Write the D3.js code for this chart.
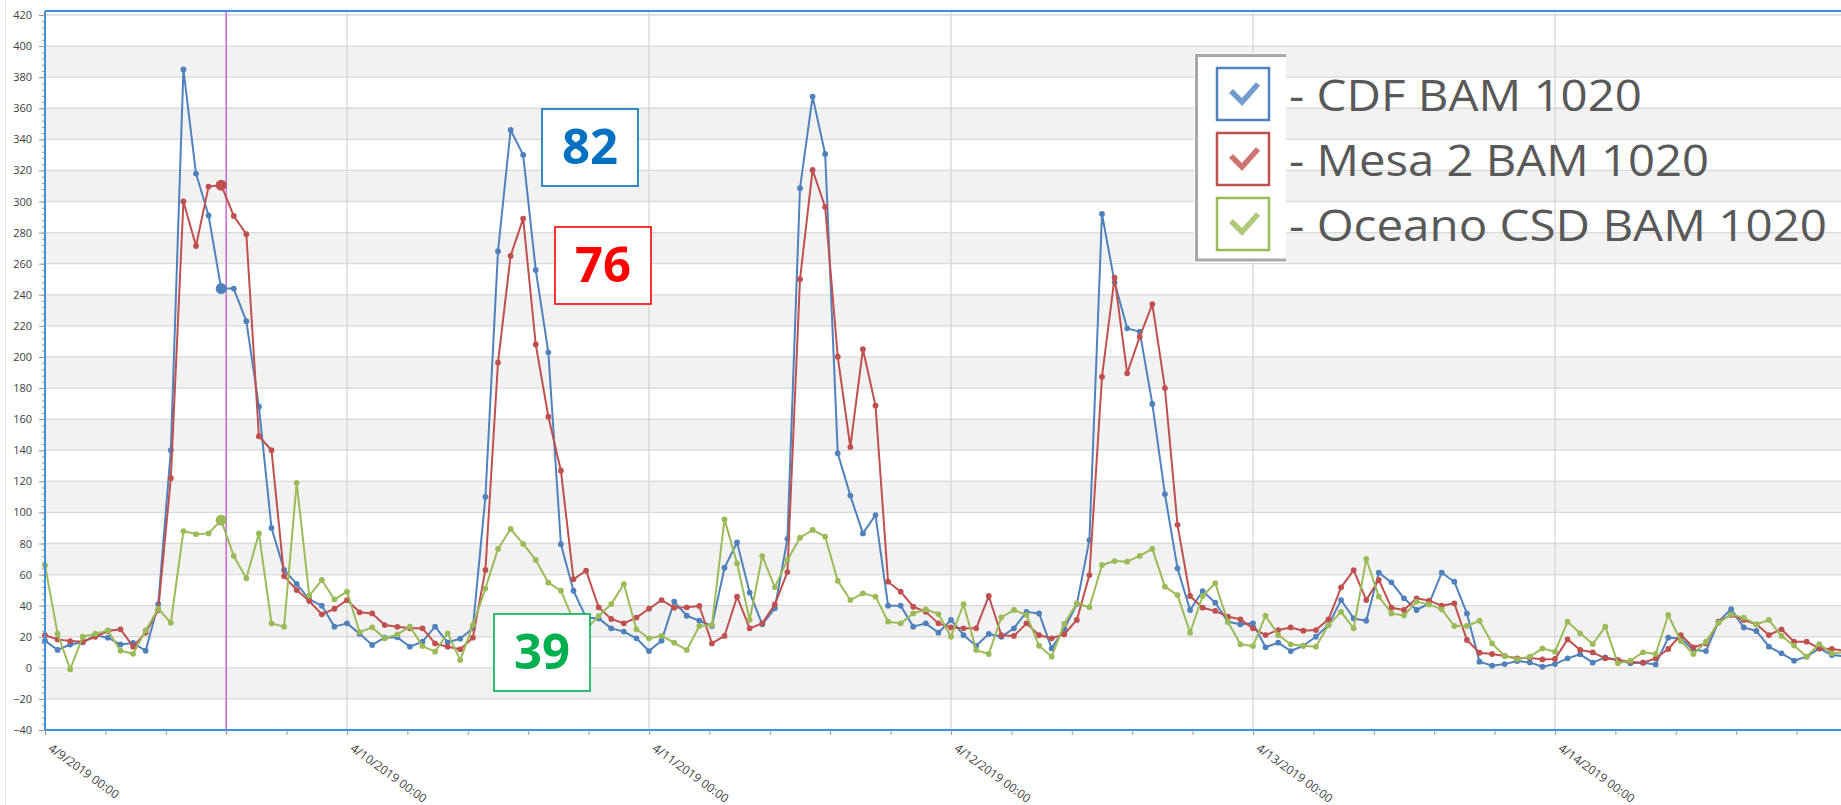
<!DOCTYPE html>
<html>
<head>
<meta charset="utf-8">
<script src="https://cdn.jsdelivr.net/npm/d3@7"></script>
<style>
  body { margin: 0; background: #fff; overflow: hidden; }
  text { font-family: "Open Sans", sans-serif; }
</style>
</head>
<body>
<script>
// hourly readings starting 4/9/2019 00:00
const startTime = new Date(2019, 3, 9, 0, 0);
const seriesNames = ["CDF BAM 1020", "Mesa 2 BAM 1020", "Oceano CSD BAM 1020"];

const cdf = [17.5, 11.5, 15, 16.4, 21, 19.4, 15, 16, 11, 41,
  140, 385, 318, 291, 244, 244, 223, 168, 90, 63,
  54, 44, 40, 26.5, 28.6, 22, 14.7, 19.4, 19.6, 13.6,
  16.8, 26.5, 16.4, 18.7, 25.4, 110, 268, 346, 330, 256,
  203, 79.5, 49.6, 32.3, 31.8, 25.4, 23.3, 19, 10.8, 17.5,
  42.6, 33.5, 30.3, 26.9, 64.4, 80.7, 48.4, 28, 38.3, 82.9,
  308.6, 367.5, 330.6, 138, 110.8, 86.5, 98.3, 40, 40, 26.5,
  28.6, 22.6, 30.8, 21, 14.2, 21.8, 20, 25.4, 36, 35,
  12.5, 25, 41, 82.2, 292, 248, 218.4, 216.3, 169.8, 111.8,
  64, 37.2, 49.4, 41.9, 29.7, 28, 28.6, 13.2, 16.2, 10.8,
  14.2, 20, 27.5, 43.6, 31.8, 30.3, 61.2, 55, 44.7, 37.2,
  41.5, 61.2, 55.4, 35, 3.9, 1.4, 2.4, 4.4, 3.5, 0.7,
  2.4, 6.1, 8.7, 3.3, 6.7, 5, 2.9, 3.3, 2.2, 19.4,
  18.9, 11.5, 10.8, 29.7, 37.8, 26, 23.7, 13.6, 9.3, 4.6,
  7.2, 12.5, 8.2, 7.5];

const mesa = [21, 18.3, 17.2, 16.8, 20, 23.7, 24.8, 13.6, 22.6, 37.2,
  122, 300, 271.4, 309.6, 310.5, 290.7, 279, 149, 140, 59,
  50, 43, 34.4, 38, 43.6, 35.7, 35, 27.5, 26.4, 25.4,
  25.4, 15.7, 13.6, 11.9, 19.4, 63, 196.4, 265, 289, 208,
  161.6, 126.8, 57, 62.5, 38.9, 31.4, 28.6, 32.3, 38, 43.6,
  38.7, 38.9, 39.8, 15.7, 20.5, 45.8, 25.4, 28.6, 40.8, 61.6,
  250, 320.3, 296.5, 200.2, 142, 205, 168.7, 55.4, 49, 39.3,
  36, 28.6, 26, 25.4, 25.4, 46.2, 21, 20.5, 28.6, 21,
  19, 21.6, 30.8, 59.7, 187.3, 251, 189.5, 213, 234, 180,
  92, 46.2, 38.7, 36.6, 32.9, 31.2, 25.4, 21.1, 24.3, 26,
  23.9, 24.3, 31.2, 51.8, 62.9, 43.6, 56.5, 38.7, 37.2, 44.7,
  43.2, 40, 41.5, 17.9, 9.7, 8.9, 7.6, 6.1, 6.5, 5.4,
  5.7, 18.3, 11.5, 10, 6.1, 5, 3.9, 3.3, 6.1, 12.1,
  21.1, 13.2, 15.7, 29.7, 34, 30.8, 28, 21.1, 24.8, 16.8,
  16.8, 12.5, 12.1, 11];

const oceano = [66, 22, -1, 20, 22, 24, 11, 9, 24, 38,
  29, 88, 86, 86.5, 95, 72, 57.6, 86.5, 28.6, 26.5,
  119, 46.4, 56.5, 44, 49, 23, 26, 19, 21.5, 26.5,
  14, 10.4, 22.2, 5, 27.5, 51, 76.5, 89.3, 79.7, 69.4,
  54.8, 49.6, 30.3, 24.8, 33.3, 41, 53.9, 24.8, 19, 20.5,
  16.2, 11.4, 26.9, 27.5, 95.5, 67.2, 30.8, 71.9, 51.8, 69.4,
  83.7, 88.7, 84.4, 56, 43.6, 47.9, 45.8, 29.7, 28.6, 35,
  37.6, 34.6, 20, 40.9, 11.4, 8.9, 32.5, 37.2, 34, 14.2,
  7.2, 28.2, 41.5, 39, 66.2, 68.7, 68.3, 72, 76.5, 52.2,
  46.8, 22.6, 46.2, 54.4, 29.7, 15.1, 14, 33.6, 21.1, 15.1,
  14.2, 13.6, 27.5, 36, 25.4, 70, 45.8, 35, 33.6, 42.6,
  40.8, 37.6, 26.9, 26.9, 30.3, 15.7, 7.6, 5.5, 7.2, 12.5,
  10.4, 29.7, 22.2, 15.3, 26.5, 2.9, 4.6, 10, 8.9, 34,
  17.2, 8.9, 16.8, 29, 34.4, 32.3, 28, 30.8, 20.5, 14.3,
  7.2, 15.3, 9.3, 10];

const calloutLabels = ["82", "76", "39"];
const highlightIndex = 14;

const width = 1841, height = 805;
const plotLeft = 45, plotTop = 11, plotBottom = 730;
const colors = ["#4f81bd", "#c0504d", "#9bbb59"];
const frameBlue = "#3d8fdf";

const svg = d3.select("body").append("svg")
  .attr("width", width)
  .attr("height", height);

const x = d3.scaleTime()
  .domain([startTime, d3.timeDay.offset(startTime, 6)])
  .range([plotLeft, plotLeft + 6 * 302]);

const y = d3.scaleLinear()
  .domain([-40, 420])
  .range([plotBottom, 15]);

// outer control edge
svg.append("line")
  .attr("x1", 5.5).attr("x2", 5.5).attr("y1", 0).attr("y2", height)
  .style("stroke", "#e3e3e3");

// alternating bands
const bands = d3.range(-20, 400, 40);
svg.selectAll(".band").data(bands).enter().append("rect")
  .attr("class", "band")
  .attr("x", plotLeft)
  .attr("width", width - plotLeft)
  .attr("y", function(d) { return y(d + 20); })
  .attr("height", function(d) { return y(d) - y(d + 20); })
  .style("fill", "#f2f2f2");

// horizontal grid
svg.selectAll(".hgrid").data(d3.range(-20, 421, 20)).enter().append("line")
  .attr("class", "hgrid")
  .attr("x1", plotLeft).attr("x2", width)
  .attr("y1", function(d) { return y(d); })
  .attr("y2", function(d) { return y(d); })
  .style("stroke", "#d9d9d9")
  .style("stroke-width", 1.3);

// vertical day grid
const days = d3.range(1, 6).map(function(i) { return d3.timeDay.offset(startTime, i); });
svg.selectAll(".vgrid").data(days).enter().append("line")
  .attr("class", "vgrid")
  .attr("x1", function(d) { return x(d); })
  .attr("x2", function(d) { return x(d); })
  .attr("y1", plotTop).attr("y2", plotBottom)
  .style("stroke", "#d4d4d4")
  .style("stroke-width", 1.2);

// cursor line
const cursorTime = d3.timeMinute.offset(startTime, 3 * 288);
svg.append("line")
  .attr("x1", x(cursorTime)).attr("x2", x(cursorTime))
  .attr("y1", plotTop).attr("y2", plotBottom)
  .style("stroke", "#cc6fd6")
  .style("stroke-width", 1.6);

// series
const series = [cdf, mesa, oceano].map(function(vals, i) {
  return {
    name: seriesNames[i],
    color: colors[i],
    values: vals.map(function(v, j) { return { t: d3.timeHour.offset(startTime, j), v: v }; })
  };
});

const line = d3.line()
  .x(function(d) { return x(d.t); })
  .y(function(d) { return y(d.v); });

const g = svg.selectAll(".series").data(series).enter().append("g")
  .attr("class", "series");

g.append("path")
  .attr("d", function(d) { return line(d.values); })
  .style("fill", "none")
  .style("stroke", function(d) { return d.color; })
  .style("stroke-width", 2)
  .style("stroke-linejoin", "round");

g.each(function(s) {
  d3.select(this).selectAll("circle").data(s.values).enter().append("circle")
    .attr("cx", function(d) { return x(d.t); })
    .attr("cy", function(d) { return y(d.v); })
    .attr("r", function(d, j) { return j === highlightIndex ? 5.5 : 2.9; })
    .style("fill", s.color);
});

// frame top
svg.append("line")
  .attr("x1", plotLeft).attr("x2", width).attr("y1", plotTop).attr("y2", plotTop)
  .style("stroke", frameBlue).style("stroke-width", 2);

// y axis, minor ticks then major
const yMinor = svg.append("g")
  .attr("transform", "translate(" + plotLeft + ",0)")
  .call(d3.axisLeft(y).tickValues(d3.range(-40, 421, 4)).tickSize(3).tickFormat(""));
yMinor.select(".domain").remove();
yMinor.selectAll("line").style("stroke", "#999");

const yAxis = svg.append("g")
  .attr("transform", "translate(" + plotLeft + ",0)")
  .call(d3.axisLeft(y).tickValues(d3.range(-40, 421, 20)).tickSize(6).tickPadding(7));
yAxis.select(".domain")
  .attr("d", "M0," + plotTop + "V" + plotBottom)
  .style("stroke", frameBlue).style("stroke-width", 2);
yAxis.selectAll("line").style("stroke", "#999");
yAxis.selectAll("text")
  .style("font-size", "11px")
  .style("fill", "#404040");

// x axis, a tick every fifth of a day
const xTicks = d3.range(0, 30).map(function(i) { return d3.timeMinute.offset(startTime, i * 288); });
const fmt = d3.timeFormat("%-m/%-d/%Y %H:%M");
const xAxis = svg.append("g")
  .attr("transform", "translate(0," + plotBottom + ")")
  .call(d3.axisBottom(x).tickValues(xTicks).tickSize(5)
    .tickFormat(function(d, i) { return i % 5 === 0 ? fmt(d) : ""; }));
xAxis.select(".domain")
  .attr("d", "M" + plotLeft + ",0H" + width)
  .style("stroke", frameBlue).style("stroke-width", 2);
xAxis.selectAll("line").style("stroke", "#999");
xAxis.selectAll("text")
  .attr("text-anchor", "start")
  .attr("y", 0).attr("dy", 0)
  .attr("transform", "translate(2,20) rotate(36)")
  .style("font-size", "12px")
  .style("fill", "#404040");

// callout boxes
const boxPos = [[542, 109, "#0070c0"], [555, 227, "#ff0000"], [494, 614, "#00b050"]];
const callouts = svg.selectAll(".callout").data(calloutLabels).enter().append("g")
  .attr("class", "callout");
callouts.append("rect")
  .attr("x", function(d, i) { return boxPos[i][0]; })
  .attr("y", function(d, i) { return boxPos[i][1]; })
  .attr("width", 96).attr("height", 77)
  .style("fill", "#fff")
  .style("stroke", function(d, i) { return boxPos[i][2]; })
  .style("stroke-width", 1.6);
callouts.append("text")
  .attr("x", function(d, i) { return boxPos[i][0] + 48; })
  .attr("y", function(d, i) { return boxPos[i][1] + 55; })
  .attr("text-anchor", "middle")
  .style("font-size", "49px")
  .style("font-weight", "bold")
  .style("fill", function(d, i) { return boxPos[i][2]; })
  .text(function(d) { return d; });

// legend
const legend = svg.append("g");
legend.append("rect")
  .attr("x", 1194).attr("y", 53).attr("width", 92).attr("height", 210)
  .style("fill", "#fff");
legend.append("path")
  .attr("d", "M1286,55.5H1196.5V260H1286")
  .style("fill", "none")
  .style("stroke", "#a8a8a8")
  .style("stroke-width", 3);

const textWidths = [353, 420, 538];
const items = legend.selectAll(".item").data(series).enter().append("g")
  .attr("class", "item")
  .attr("transform", function(d, i) { return "translate(1217," + (68 + i * 65) + ")"; });
items.append("rect")
  .attr("width", 52).attr("height", 52)
  .style("fill", "#fff")
  .style("stroke", function(d) { return d.color; })
  .style("stroke-width", 2.5);
items.append("path")
  .attr("d", "M14,23L25,34L41,16")
  .style("fill", "none")
  .style("stroke", function(d) { return d.color; })
  .style("stroke-width", 5.5)
  .style("opacity", 0.8);
items.append("text")
  .attr("x", 72)
  .attr("y", 42.7)
  .attr("textLength", function(d, i) { return textWidths[i]; })
  .attr("lengthAdjust", "spacingAndGlyphs")
  .style("font-size", "43px")
  .style("fill", "#595959")
  .text(function(d) { return "- " + d.name; });
</script>
</body>
</html>
